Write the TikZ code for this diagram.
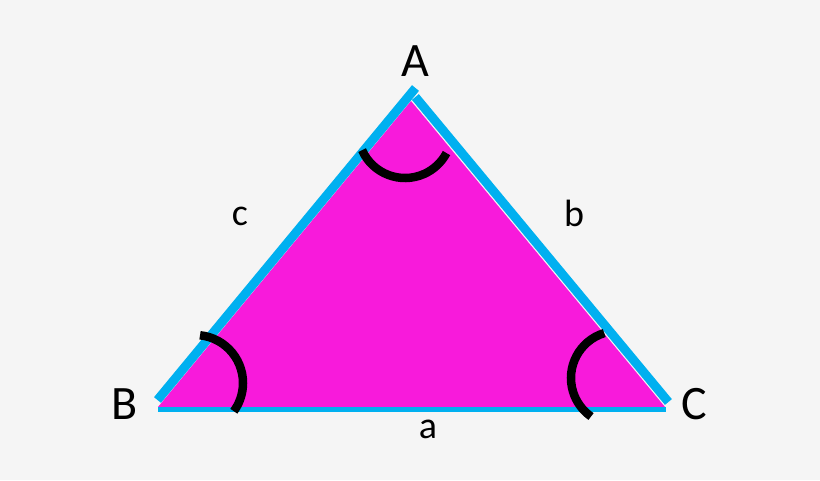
\documentclass[tikz,border=0pt]{standalone}
\usepackage{fontspec}
\setmainfont{Carlito}
\definecolor{bg}{HTML}{F5F5F5}
\definecolor{mag}{HTML}{F81ADB}
\definecolor{sky}{HTML}{00B0F0}
\begin{document}
\begin{tikzpicture}[x=1pt,y=-1pt,
  side/.style={draw=sky,line width=9pt},
  anglemark/.style={draw=black,line width=8.5pt},
  capl/.style={font=\fontsize{48}{48}\selectfont},
  lowl/.style={font=\fontsize{38}{38}\selectfont}]
\fill[bg] (0,0) rectangle (820,480);
\useasboundingbox (0,0) rectangle (820,480);
% vertices of the filled triangle
\coordinate (vA) at (411,101);
\coordinate (vB) at (158,407);
\coordinate (vC) at (665,407);
\fill[mag] (vA) -- (vB) -- (vC) -- cycle;
% blue sides
\coordinate (lB) at (157.5,400);
\coordinate (lA) at (415.5,88);
\coordinate (rA) at (415.4,97);
\coordinate (rC) at (668.4,402);
\coordinate (bB) at (158,409.5);
\coordinate (bC) at (666,409.5);
\draw[side] (lB) -- (lA);
\draw[side] (rA) -- (rC);
\draw[side,line width=5pt] (bB) -- (bC);
% angle marks
\draw[anglemark] (405,131) ++(156:47) arc[start angle=156,end angle=28,radius=47];
\draw[anglemark] (195,383) ++(-84:48) arc[start angle=-84,end angle=36,radius=48];
\draw[anglemark] (618,378) ++(253:47) arc[start angle=253,end angle=125,radius=47];
% labels
\node[capl] (labA) at (415,61) {A};
\node[capl] (labB) at (125,404) {B};
\node[capl] (labC) at (694,404) {C};
\node[lowl] (labc) at (240,216) {c};
\node[lowl] (labb) at (574,213) {b};
\node[lowl] (laba) at (428,429) {a};
\end{tikzpicture}
\end{document}
